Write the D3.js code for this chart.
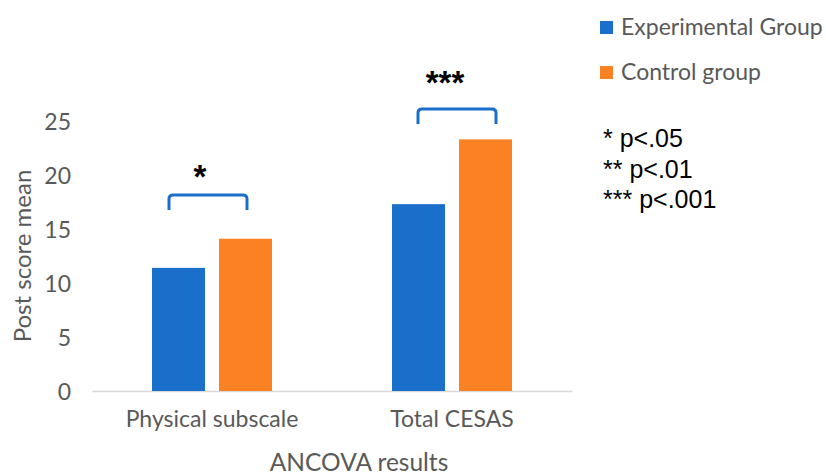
<!DOCTYPE html>
<html>
<head>
<meta charset="utf-8">
<script src="https://cdn.jsdelivr.net/npm/d3@7"></script>
<style>
  html, body { margin: 0; padding: 0; background: #fff; }
  svg { display: block; }
</style>
</head>
<body>
<svg id="chart" width="826" height="475"></svg>
<script>
// Post-test means from the ANCOVA
const categories = ["Physical subscale", "Total CESAS"];
const seriesNames = ["Experimental Group", "Control group"];
const experimental = [11.4, 17.3];
const control = [14.1, 23.3];
const significance = ["*", "***"];
const bracketLevel = [18.15, 26.1];   // height of each significance bracket, in score units
const yTicks = [0, 5, 10, 15, 20, 25];
const pNotes = ["* p<.05", "** p<.01", "*** p<.001"];
const colors = ["#1a6fcb", "#fb8122"];

const svg = d3.select("#chart");
const left = 92, right = 572;

const x = d3.scaleBand().domain(categories).range([left, right]);
const y = d3.scaleLinear().domain([0, 25]).range([391, 121]);

const barW = 53, gap = 14;
const groupW = barW * 2 + gap;
// horizontal placement of each bracket inside its group (left, right offsets)
const bracketSpan = [[17, 95], [26, 104]];
const starShift = [-8, -12];
const starLift = [7, 15];

const labelFont = "Lato, 'Open Sans', sans-serif";
const arial = "'Liberation Sans', Arial, sans-serif";

// y tick labels (no axis line)
const yAxis = d3.axisLeft(y).tickValues(yTicks).tickSize(0).tickPadding(0);
const gy = svg.append("g").attr("transform", `translate(${left - 21},0)`).call(yAxis);
gy.select(".domain").remove();
gy.selectAll("text")
  .attr("font-family", labelFont)
  .attr("font-size", 23)
  .attr("fill", "#595959")
  .attr("dy", "0.36em");

// baseline and category labels
const xAxis = d3.axisBottom(x).tickSize(0).tickPadding(0);
const gx = svg.append("g").attr("transform", `translate(0,${y(0)})`).call(xAxis);
gx.select(".domain").attr("stroke", "#d9d9d9").attr("stroke-width", 1.3);
gx.selectAll("text")
  .attr("font-family", labelFont)
  .attr("font-size", 23)
  .attr("fill", "#595959")
  .attr("dy", "1.55em");

// bars
const data = categories.map((c, i) => ({ i, cat: c, vals: [experimental[i], control[i]], sig: significance[i] }));
const groups = svg.append("g").selectAll("g").data(data).join("g");
groups.each(function(d) {
  const g = d3.select(this);
  const x0 = x(d.cat) + x.bandwidth() / 2 - groupW / 2;
  g.selectAll("rect").data(d.vals).join("rect")
    .attr("x", (v, j) => x0 + j * (barW + gap))
    .attr("y", v => y(v))
    .attr("width", barW)
    .attr("height", v => y(0) - y(v))
    .attr("fill", (v, j) => colors[j]);

  // significance bracket
  const top = y(bracketLevel[d.i]);
  const bx0 = x0 + bracketSpan[d.i][0], bx1 = x0 + bracketSpan[d.i][1];
  const leg = 15, r = 4;
  g.append("path")
    .attr("d", `M${bx0},${top + leg} V${top + r} Q${bx0},${top} ${bx0 + r},${top} H${bx1 - r} Q${bx1},${top} ${bx1},${top + r} V${top + leg}`)
    .attr("fill", "none")
    .attr("stroke", colors[0])
    .attr("stroke-width", 3);
  g.append("text")
    .attr("x", (bx0 + bx1) / 2 + starShift[d.i])
    .attr("y", top - starLift[d.i])
    .attr("text-anchor", "middle")
    .attr("font-family", arial)
    .attr("font-weight", "bold")
    .attr("font-size", 33)
    .attr("fill", "#000")
    .text(d.sig);
});

// axis titles
svg.append("text")
  .attr("transform", `translate(31,256) rotate(-90)`)
  .attr("text-anchor", "middle")
  .attr("font-family", labelFont)
  .attr("font-size", 24)
  .attr("fill", "#595959")
  .text("Post score mean");

svg.append("text")
  .attr("x", 359)
  .attr("y", 471)
  .attr("text-anchor", "middle")
  .attr("font-family", labelFont)
  .attr("font-size", 24.5)
  .attr("fill", "#595959")
  .text("ANCOVA results");

// legend
const legend = svg.append("g").selectAll("g").data(seriesNames).join("g")
  .attr("transform", (d, i) => `translate(600,${21 + i * 45})`);
legend.append("rect").attr("width", 13).attr("height", 13).attr("fill", (d, i) => colors[i]);
legend.append("text")
  .attr("x", 21).attr("y", 14)
  .attr("font-family", labelFont)
  .attr("font-size", 23)
  .attr("fill", "#595959")
  .text(d => d);

// significance key
svg.append("g").selectAll("text").data(pNotes).join("text")
  .attr("x", 603)
  .attr("y", (d, i) => 147 + i * 30.5)
  .attr("font-family", arial)
  .attr("font-size", 25)
  .attr("fill", "#000")
  .text(d => d);
</script>
</body>
</html>
